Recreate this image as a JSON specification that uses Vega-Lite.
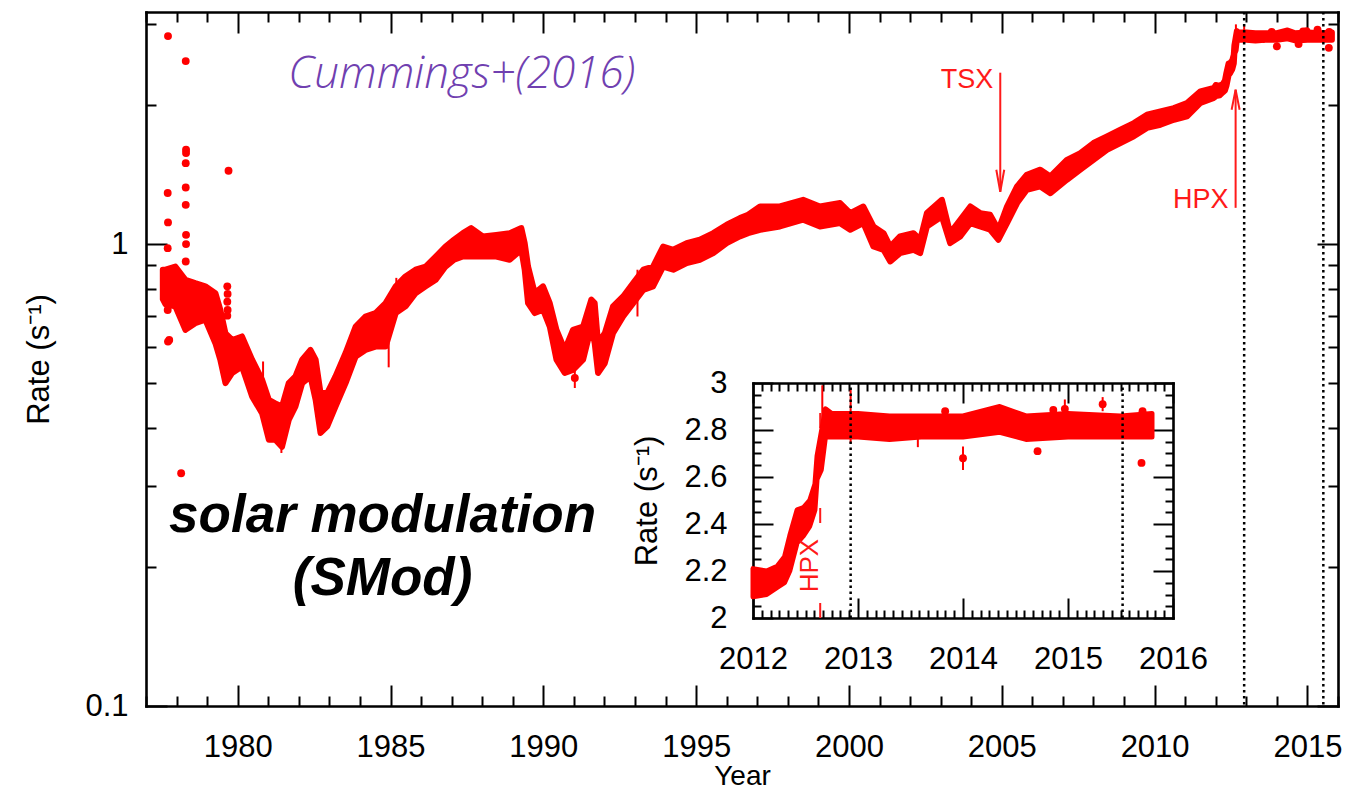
{
  "$schema": "https://vega.github.io/schema/vega-lite/v6.json",
  "width": 1192,
  "height": 694,
  "autosize": {"type": "none"},
  "padding": {"left": 146, "top": 12, "right": 29, "bottom": 91},
  "background": "white",
  "config": {
    "view": {"stroke": null},
    "axis": {
      "labelFont": "Liberation Sans",
      "titleFont": "Liberation Sans",
      "labelColor": "black",
      "titleColor": "black",
      "domainColor": "black",
      "tickColor": "black",
      "domainWidth": 2.6,
      "domainCap": "square",
      "tickWidth": 2,
      "grid": false,
      "labelOverlap": false,
      "labelFlush": false,
      "labelBound": false,
      "titleFontWeight": "normal"
    }
  },
  "datasets": {
    "band": [
      {"year": 1977.55, "lo": 0.76, "hi": 0.88},
      {"year": 1977.64, "lo": 0.74, "hi": 0.88},
      {"year": 1977.96, "lo": 0.733, "hi": 0.894},
      {"year": 1978.29, "lo": 0.652, "hi": 0.837},
      {"year": 1978.61, "lo": 0.674, "hi": 0.823},
      {"year": 1978.94, "lo": 0.686, "hi": 0.81},
      {"year": 1979.27, "lo": 0.61, "hi": 0.783},
      {"year": 1979.43, "lo": 0.562, "hi": 0.721},
      {"year": 1979.6, "lo": 0.5, "hi": 0.641},
      {"year": 1979.82, "lo": 0.526, "hi": 0.62},
      {"year": 1980.14, "lo": 0.543, "hi": 0.631},
      {"year": 1980.47, "lo": 0.468, "hi": 0.562},
      {"year": 1980.8, "lo": 0.43, "hi": 0.508},
      {"year": 1981.02, "lo": 0.377, "hi": 0.46},
      {"year": 1981.23, "lo": 0.377, "hi": 0.452},
      {"year": 1981.45, "lo": 0.364, "hi": 0.445},
      {"year": 1981.67, "lo": 0.416, "hi": 0.5},
      {"year": 1981.89, "lo": 0.445, "hi": 0.517},
      {"year": 1982.11, "lo": 0.5, "hi": 0.562},
      {"year": 1982.38, "lo": 0.517, "hi": 0.59},
      {"year": 1982.55, "lo": 0.46, "hi": 0.562},
      {"year": 1982.71, "lo": 0.39, "hi": 0.476},
      {"year": 1982.93, "lo": 0.403, "hi": 0.476},
      {"year": 1983.2, "lo": 0.445, "hi": 0.517},
      {"year": 1983.53, "lo": 0.5, "hi": 0.581},
      {"year": 1983.86, "lo": 0.571, "hi": 0.663},
      {"year": 1984.18, "lo": 0.59, "hi": 0.697},
      {"year": 1984.51, "lo": 0.6, "hi": 0.709},
      {"year": 1984.84, "lo": 0.6, "hi": 0.745},
      {"year": 1985.17, "lo": 0.709, "hi": 0.81},
      {"year": 1985.49, "lo": 0.733, "hi": 0.851},
      {"year": 1985.82, "lo": 0.783, "hi": 0.88},
      {"year": 1986.15, "lo": 0.81, "hi": 0.894},
      {"year": 1986.48, "lo": 0.837, "hi": 0.94},
      {"year": 1986.8, "lo": 0.894, "hi": 0.988},
      {"year": 1987.08, "lo": 0.925, "hi": 1.022},
      {"year": 1987.37, "lo": 0.94, "hi": 1.056},
      {"year": 1987.64, "lo": 0.94, "hi": 1.083},
      {"year": 1988.02, "lo": 0.94, "hi": 1.039},
      {"year": 1988.46, "lo": 0.94, "hi": 1.047},
      {"year": 1988.9, "lo": 0.925, "hi": 1.056},
      {"year": 1989.28, "lo": 0.972, "hi": 1.083},
      {"year": 1989.39, "lo": 0.88, "hi": 1.005},
      {"year": 1989.5, "lo": 0.745, "hi": 0.894},
      {"year": 1989.72, "lo": 0.709, "hi": 0.783},
      {"year": 1989.99, "lo": 0.721, "hi": 0.81},
      {"year": 1990.21, "lo": 0.663, "hi": 0.745},
      {"year": 1990.43, "lo": 0.562, "hi": 0.652},
      {"year": 1990.7, "lo": 0.526, "hi": 0.59},
      {"year": 1990.97, "lo": 0.534, "hi": 0.652},
      {"year": 1991.3, "lo": 0.562, "hi": 0.663},
      {"year": 1991.57, "lo": 0.663, "hi": 0.758},
      {"year": 1991.68, "lo": 0.61, "hi": 0.745},
      {"year": 1991.79, "lo": 0.526, "hi": 0.61},
      {"year": 1992.01, "lo": 0.552, "hi": 0.641},
      {"year": 1992.28, "lo": 0.641, "hi": 0.733},
      {"year": 1992.61, "lo": 0.697, "hi": 0.77},
      {"year": 1992.94, "lo": 0.745, "hi": 0.823},
      {"year": 1993.27, "lo": 0.796, "hi": 0.88},
      {"year": 1993.59, "lo": 0.81, "hi": 0.894},
      {"year": 1993.92, "lo": 0.894, "hi": 0.988},
      {"year": 1994.25, "lo": 0.88, "hi": 0.972},
      {"year": 1994.69, "lo": 0.91, "hi": 1.005},
      {"year": 1995.12, "lo": 0.925, "hi": 1.022},
      {"year": 1995.56, "lo": 0.956, "hi": 1.056},
      {"year": 1996.0, "lo": 1.005, "hi": 1.101},
      {"year": 1996.43, "lo": 1.039, "hi": 1.138},
      {"year": 1996.7, "lo": 1.056, "hi": 1.157},
      {"year": 1997.09, "lo": 1.074, "hi": 1.206},
      {"year": 1997.74, "lo": 1.092, "hi": 1.206},
      {"year": 1998.5, "lo": 1.129, "hi": 1.247},
      {"year": 1999.05, "lo": 1.092, "hi": 1.206},
      {"year": 1999.71, "lo": 1.11, "hi": 1.227},
      {"year": 2000.04, "lo": 1.074, "hi": 1.167},
      {"year": 2000.47, "lo": 1.11, "hi": 1.206},
      {"year": 2000.8, "lo": 0.988, "hi": 1.092},
      {"year": 2001.13, "lo": 0.972, "hi": 1.056},
      {"year": 2001.35, "lo": 0.917, "hi": 0.988},
      {"year": 2001.67, "lo": 0.956, "hi": 1.039},
      {"year": 2002.11, "lo": 0.972, "hi": 1.056},
      {"year": 2002.33, "lo": 0.956, "hi": 1.022},
      {"year": 2002.55, "lo": 1.092, "hi": 1.167},
      {"year": 2003.04, "lo": 1.147, "hi": 1.247},
      {"year": 2003.31, "lo": 1.005, "hi": 1.056},
      {"year": 2003.64, "lo": 1.039, "hi": 1.129},
      {"year": 2003.97, "lo": 1.11, "hi": 1.206},
      {"year": 2004.29, "lo": 1.092, "hi": 1.167},
      {"year": 2004.62, "lo": 1.074, "hi": 1.157},
      {"year": 2004.89, "lo": 1.022, "hi": 1.074},
      {"year": 2005.17, "lo": 1.11, "hi": 1.206},
      {"year": 2005.5, "lo": 1.227, "hi": 1.333},
      {"year": 2005.82, "lo": 1.311, "hi": 1.413},
      {"year": 2006.26, "lo": 1.333, "hi": 1.449},
      {"year": 2006.59, "lo": 1.289, "hi": 1.401},
      {"year": 2007.13, "lo": 1.378, "hi": 1.522},
      {"year": 2007.57, "lo": 1.449, "hi": 1.574},
      {"year": 2008.0, "lo": 1.522, "hi": 1.655},
      {"year": 2008.44, "lo": 1.6, "hi": 1.711},
      {"year": 2008.88, "lo": 1.655, "hi": 1.768},
      {"year": 2009.32, "lo": 1.711, "hi": 1.828},
      {"year": 2009.75, "lo": 1.784, "hi": 1.906},
      {"year": 2010.19, "lo": 1.813, "hi": 1.937},
      {"year": 2010.63, "lo": 1.858, "hi": 1.97},
      {"year": 2011.06, "lo": 1.89, "hi": 2.021},
      {"year": 2011.5, "lo": 2.021, "hi": 2.141},
      {"year": 2011.94, "lo": 2.072, "hi": 2.177},
      {"year": 2012.0, "lo": 2.09, "hi": 2.21},
      {"year": 2012.13, "lo": 2.1, "hi": 2.2},
      {"year": 2012.23, "lo": 2.13, "hi": 2.22},
      {"year": 2012.3, "lo": 2.15, "hi": 2.26},
      {"year": 2012.35, "lo": 2.2, "hi": 2.35},
      {"year": 2012.42, "lo": 2.32, "hi": 2.46},
      {"year": 2012.48, "lo": 2.35, "hi": 2.47},
      {"year": 2012.54, "lo": 2.39, "hi": 2.5},
      {"year": 2012.59, "lo": 2.46, "hi": 2.57},
      {"year": 2012.61, "lo": 2.59, "hi": 2.69},
      {"year": 2012.65, "lo": 2.63, "hi": 2.79},
      {"year": 2012.69, "lo": 2.77, "hi": 2.89},
      {"year": 2012.75, "lo": 2.77, "hi": 2.87},
      {"year": 2013.0, "lo": 2.77, "hi": 2.87},
      {"year": 2013.3, "lo": 2.76, "hi": 2.86},
      {"year": 2013.6, "lo": 2.77, "hi": 2.86},
      {"year": 2014.0, "lo": 2.77, "hi": 2.86},
      {"year": 2014.35, "lo": 2.79, "hi": 2.9},
      {"year": 2014.6, "lo": 2.76, "hi": 2.86},
      {"year": 2015.0, "lo": 2.77, "hi": 2.87},
      {"year": 2015.5, "lo": 2.77, "hi": 2.86},
      {"year": 2015.8, "lo": 2.77, "hi": 2.87}
    ],
    "spots": [
      {"year": 1977.72, "rate": 2.82},
      {"year": 1977.71, "rate": 1.29},
      {"year": 1977.72, "rate": 1.114},
      {"year": 1977.71, "rate": 0.98},
      {"year": 1977.71, "rate": 0.72},
      {"year": 1977.72, "rate": 0.615},
      {"year": 1977.76, "rate": 0.62},
      {"year": 1978.15, "rate": 0.319},
      {"year": 1978.3, "rate": 2.49},
      {"year": 1978.31, "rate": 1.6},
      {"year": 1978.31, "rate": 1.575},
      {"year": 1978.3, "rate": 1.497},
      {"year": 1978.3, "rate": 1.326},
      {"year": 1978.3, "rate": 1.216},
      {"year": 1978.31, "rate": 1.047},
      {"year": 1978.31, "rate": 1.0},
      {"year": 1978.3, "rate": 0.917},
      {"year": 1979.7, "rate": 1.441},
      {"year": 1979.66, "rate": 0.81},
      {"year": 1979.67, "rate": 0.78},
      {"year": 1979.66, "rate": 0.75},
      {"year": 1979.67, "rate": 0.72},
      {"year": 1979.66, "rate": 0.7},
      {"year": 1991.03, "rate": 0.513},
      {"year": 2013.83, "rate": 2.88},
      {"year": 2014.0, "rate": 2.68},
      {"year": 2014.71, "rate": 2.71},
      {"year": 2014.86, "rate": 2.885},
      {"year": 2014.97, "rate": 2.89},
      {"year": 2015.33, "rate": 2.91},
      {"year": 2015.7, "rate": 2.66},
      {"year": 2015.71, "rate": 2.88}
    ],
    "bars": [
      {"year": 1980.83, "lo": 0.508, "hi": 0.557},
      {"year": 1981.43, "lo": 0.353, "hi": 0.377},
      {"year": 1984.94, "lo": 0.541, "hi": 0.611},
      {"year": 1985.19, "lo": 0.769, "hi": 0.845},
      {"year": 1991.03, "lo": 0.488, "hi": 0.534},
      {"year": 1993.08, "lo": 0.697, "hi": 0.88},
      {"year": 2012.66, "lo": 2.8, "hi": 2.99},
      {"year": 2012.93, "lo": 2.745, "hi": 2.97},
      {"year": 2013.57, "lo": 2.727, "hi": 2.8},
      {"year": 2014.0, "lo": 2.63, "hi": 2.73},
      {"year": 2014.97, "lo": 2.86, "hi": 2.93},
      {"year": 2015.33, "lo": 2.88, "hi": 2.94}
    ],
    "cuts": [{"year": 2012.93}, {"year": 2015.52}],
    "arrows": [
      {"label": "TSX", "year": 2004.95, "tail": 2.35, "tip": 1.298},
      {"label": "HPX", "year": 2012.65, "tail": 1.198, "tip": 2.159}
    ],
    "notes": [
      {"label": "Cummings+(2016)", "year": 1987.33, "rate": 2.18},
      {"label": "solar modulation", "year": 1984.74, "rate": 0.238},
      {"label": "(SMod)", "year": 1984.74, "rate": 0.174},
      {"label": "TSX", "year": 2004.72, "rate": 2.18},
      {"label": "HPX", "year": 2012.42, "rate": 1.198}
    ],
    "hpx": [{"label": "HPX", "year": 2012.64, "textYear": 2012.62, "rate": 2.223}]
  },
  "layer": [
    {
      "layer": [
        {
          "data": {"name": "band"},
          "mark": {"type": "area", "fill": "#ff0000", "stroke": "#ff0000", "strokeWidth": 6, "strokeJoin": "round"},
          "encoding": {
            "x": {
              "field": "year", "type": "quantitative",
              "scale": {"domain": [1977, 2016], "nice": false, "zero": false},
              "axis": {
                "orient": "bottom",
                "values": [1977,1978,1979,1980,1981,1982,1983,1984,1985,1986,1987,1988,1989,1990,1991,1992,1993,1994,1995,1996,1997,1998,1999,2000,2001,2002,2003,2004,2005,2006,2007,2008,2009,2010,2011,2012,2013,2014,2015,2016],
                "format": "d",
                "labelExpr": "datum.value % 5 === 0 ? datum.label : ''",
                "tickSize": {"condition": {"test": "datum.value % 5 === 0", "value": -21}, "value": -10},
                "labelPadding": 47,
                "labelFontSize": 31,
                "title": "Year",
                "titleFontSize": 28,
                "titlePadding": -11
              }
            },
            "y": {
              "field": "lo", "type": "quantitative",
              "scale": {"type": "log", "domain": [0.1, 3.18], "nice": false},
              "axis": {
                "orient": "left",
                "values": [0.1,0.2,0.3,0.4,0.5,0.6,0.7,0.8,0.9,1,2,3],
                "labelExpr": "datum.value === 1 ? '1' : (datum.value === 0.1 ? '0.1' : '')",
                "tickSize": {"condition": {"test": "datum.value === 1 || datum.value === 0.1", "value": -21}, "value": -10},
                "labelPadding": 39,
                "labelFontSize": 31,
                "title": "Rate  (s⁻¹)",
                "titleFontSize": 31,
                "titlePadding": 29
              }
            },
            "y2": {"field": "hi"}
          }
        },
        {
          "data": {"name": "bars"},
          "mark": {"type": "rule", "color": "#ff0000", "strokeWidth": 2},
          "encoding": {
            "x": {"field": "year", "type": "quantitative", "axis": null},
            "y": {"field": "lo", "type": "quantitative", "axis": null},
            "y2": {"field": "hi"}
          }
        },
        {
          "data": {"name": "spots"},
          "mark": {"type": "point", "filled": true, "color": "#ff0000", "size": 62, "opacity": 1},
          "encoding": {
            "x": {
              "field": "year", "type": "quantitative",
              "axis": {
                "orient": "top",
                "values": [1977,1978,1979,1980,1981,1982,1983,1984,1985,1986,1987,1988,1989,1990,1991,1992,1993,1994,1995,1996,1997,1998,1999,2000,2001,2002,2003,2004,2005,2006,2007,2008,2009,2010,2011,2012,2013,2014,2015,2016],
                "labels": false,
                "tickSize": {"condition": {"test": "datum.value % 5 === 0", "value": -21}, "value": -10},
                "title": null
              }
            },
            "y": {
              "field": "rate", "type": "quantitative",
              "axis": {
                "orient": "right",
                "values": [0.1,0.2,0.3,0.4,0.5,0.6,0.7,0.8,0.9,1,2,3],
                "labels": false,
                "tickSize": {"condition": {"test": "datum.value === 1 || datum.value === 0.1", "value": -21}, "value": -10},
                "title": null
              }
            }
          }
        },
        {
          "data": {"name": "cuts"},
          "mark": {"type": "rule", "color": "black", "strokeWidth": 2.5, "strokeDash": [2.5, 3.5]},
          "encoding": {"x": {"field": "year", "type": "quantitative", "axis": null}}
        },
        {
          "data": {"name": "arrows"},
          "mark": {"type": "rule", "color": "#ff1a1a", "strokeWidth": 2},
          "encoding": {
            "x": {"field": "year", "type": "quantitative", "axis": null},
            "y": {"field": "tail", "type": "quantitative", "axis": null},
            "y2": {"field": "tip"}
          }
        },
        {
          "data": {"name": "arrows"},
          "transform": [{"filter": "datum.label === 'TSX'"}],
          "mark": {"type": "point", "shape": "M -0.18 -1 L 0 0 L 0.18 -1", "size": 1936, "filled": false, "stroke": "#ff1a1a", "strokeWidth": 2, "opacity": 1},
          "encoding": {
            "x": {"field": "year", "type": "quantitative", "axis": null},
            "y": {"field": "tip", "type": "quantitative", "axis": null}
          }
        },
        {
          "data": {"name": "arrows"},
          "transform": [{"filter": "datum.label === 'HPX'"}],
          "mark": {"type": "point", "shape": "M -0.2 1 L 0 0 L 0.2 1", "size": 1600, "filled": false, "stroke": "#ff1a1a", "strokeWidth": 2, "opacity": 1},
          "encoding": {
            "x": {"field": "year", "type": "quantitative", "axis": null},
            "y": {"field": "tip", "type": "quantitative", "axis": null}
          }
        },
        {
          "data": {"name": "notes"},
          "transform": [{"filter": "datum.label === 'Cummings+(2016)'"}],
          "mark": {"type": "text", "font": "Open Sans", "fontStyle": "italic", "fontWeight": 300, "fontSize": 44, "color": "#7040b0", "align": "center", "baseline": "alphabetic"},
          "encoding": {
            "x": {"field": "year", "type": "quantitative", "axis": null},
            "y": {"field": "rate", "type": "quantitative", "axis": null},
            "text": {"field": "label"}
          }
        },
        {
          "data": {"name": "notes"},
          "transform": [{"filter": "datum.label === 'solar modulation' || datum.label === '(SMod)'"}],
          "mark": {"type": "text", "font": "Liberation Sans", "fontStyle": "italic", "fontWeight": "bold", "fontSize": 53, "color": "black", "align": "center", "baseline": "alphabetic"},
          "encoding": {
            "x": {"field": "year", "type": "quantitative", "axis": null},
            "y": {"field": "rate", "type": "quantitative", "axis": null},
            "text": {"field": "label"}
          }
        },
        {
          "data": {"name": "notes"},
          "transform": [{"filter": "datum.label === 'TSX' || datum.label === 'HPX'"}],
          "mark": {"type": "text", "font": "Liberation Sans", "fontSize": 27, "color": "#ff1a1a", "align": "right", "baseline": "alphabetic"},
          "encoding": {
            "x": {"field": "year", "type": "quantitative", "axis": null},
            "y": {"field": "rate", "type": "quantitative", "axis": null},
            "text": {"field": "label"}
          }
        }
      ],
      "resolve": {"axis": {"x": "independent", "y": "independent"}}
    },
    {
      "layer": [
        {
          "data": {"name": "hpx"},
          "mark": {"type": "rule", "color": "#ff1a1a", "strokeWidth": 2, "strokeDash": [15, 80]},
          "encoding": {
            "x": {
              "field": "year", "type": "quantitative", "axis": null,
              "scale": {"domain": [2012, 2016], "range": [607, 1027], "nice": false, "zero": false}
            },
            "y": {
              "datum": 2, "type": "quantitative", "axis": null,
              "scale": {"domain": [2, 3], "range": [606, 371], "nice": false, "zero": false}
            },
            "y2": {"datum": 3}
          }
        },
        {
          "data": {"name": "band"},
          "transform": [{"filter": "datum.year >= 2012"}],
          "mark": {"type": "area", "fill": "#ff0000", "stroke": "#ff0000", "strokeWidth": 5, "strokeJoin": "round"},
          "encoding": {
            "x": {
              "field": "year", "type": "quantitative",
              "axis": {
                "orient": "bottom",
                "offset": -88,
                "values": [2012,2012.0833,2012.1667,2012.25,2012.3333,2012.4167,2012.5,2012.5833,2012.6667,2012.75,2012.8333,2012.9167,2013,2013.0833,2013.1667,2013.25,2013.3333,2013.4167,2013.5,2013.5833,2013.6667,2013.75,2013.8333,2013.9167,2014,2014.0833,2014.1667,2014.25,2014.3333,2014.4167,2014.5,2014.5833,2014.6667,2014.75,2014.8333,2014.9167,2015,2015.0833,2015.1667,2015.25,2015.3333,2015.4167,2015.5,2015.5833,2015.6667,2015.75,2015.8333,2015.9167,2016],
                "labelExpr": "abs(datum.value - round(datum.value)) < 0.001 ? '' + round(datum.value) : ''",
                "tickSize": {"condition": {"test": "abs(datum.value - round(datum.value)) < 0.001", "value": -20}, "value": -8},
                "labelPadding": 46,
                "labelFontSize": 31,
                "title": null
              }
            },
            "y": {
              "field": "lo", "type": "quantitative",
              "axis": {
                "orient": "left",
                "offset": -607,
                "values": [2,2.05,2.1,2.15,2.2,2.25,2.3,2.35,2.4,2.45,2.5,2.55,2.6,2.65,2.7,2.75,2.8,2.85,2.9,2.95,3],
                "labelExpr": "abs(datum.value * 5 - round(datum.value * 5)) < 0.001 ? format(datum.value, '.2~f') : ''",
                "tickSize": {"condition": {"test": "abs(datum.value * 5 - round(datum.value * 5)) < 0.001", "value": -20}, "value": -8},
                "labelPadding": 46,
                "labelFontSize": 31,
                "title": "Rate  (s⁻¹)",
                "titleFontSize": 31,
                "titlePadding": 20
              }
            },
            "y2": {"field": "hi"}
          }
        },
        {
          "data": {"name": "bars"},
          "transform": [{"filter": "datum.year >= 2012"}],
          "mark": {"type": "rule", "color": "#ff0000", "strokeWidth": 2},
          "encoding": {
            "x": {"field": "year", "type": "quantitative", "axis": null},
            "y": {"field": "lo", "type": "quantitative", "axis": null},
            "y2": {"field": "hi"}
          }
        },
        {
          "data": {"name": "spots"},
          "transform": [{"filter": "datum.year >= 2012"}],
          "mark": {"type": "point", "filled": true, "color": "#ff0000", "size": 62, "opacity": 1},
          "encoding": {
            "x": {
              "field": "year", "type": "quantitative",
              "axis": {
                "orient": "top",
                "offset": -371,
                "values": [2012,2012.0833,2012.1667,2012.25,2012.3333,2012.4167,2012.5,2012.5833,2012.6667,2012.75,2012.8333,2012.9167,2013,2013.0833,2013.1667,2013.25,2013.3333,2013.4167,2013.5,2013.5833,2013.6667,2013.75,2013.8333,2013.9167,2014,2014.0833,2014.1667,2014.25,2014.3333,2014.4167,2014.5,2014.5833,2014.6667,2014.75,2014.8333,2014.9167,2015,2015.0833,2015.1667,2015.25,2015.3333,2015.4167,2015.5,2015.5833,2015.6667,2015.75,2015.8333,2015.9167,2016],
                "labels": false,
                "tickSize": {"condition": {"test": "abs(datum.value - round(datum.value)) < 0.001", "value": -20}, "value": -8},
                "title": null
              }
            },
            "y": {
              "field": "rate", "type": "quantitative",
              "axis": {
                "orient": "right",
                "offset": -165,
                "values": [2,2.05,2.1,2.15,2.2,2.25,2.3,2.35,2.4,2.45,2.5,2.55,2.6,2.65,2.7,2.75,2.8,2.85,2.9,2.95,3],
                "labels": false,
                "tickSize": {"condition": {"test": "abs(datum.value * 5 - round(datum.value * 5)) < 0.001", "value": -20}, "value": -8},
                "title": null
              }
            }
          }
        },
        {
          "data": {"name": "cuts"},
          "mark": {"type": "rule", "color": "black", "strokeWidth": 2.5, "strokeDash": [2.5, 3.5]},
          "encoding": {
            "x": {"field": "year", "type": "quantitative", "axis": null},
            "y": {"datum": 2, "type": "quantitative", "axis": null},
            "y2": {"datum": 3}
          }
        },
        {
          "data": {"name": "hpx"},
          "mark": {"type": "text", "font": "Liberation Sans", "fontSize": 26, "color": "#ff1a1a", "angle": 270, "align": "center", "baseline": "alphabetic"},
          "encoding": {
            "x": {"field": "textYear", "type": "quantitative", "axis": null},
            "y": {"field": "rate", "type": "quantitative", "axis": null},
            "text": {"field": "label"}
          }
        }
      ],
      "resolve": {"axis": {"x": "independent", "y": "independent"}}
    }
  ],
  "resolve": {
    "scale": {"x": "independent", "y": "independent"},
    "axis": {"x": "independent", "y": "independent"}
  }
}
